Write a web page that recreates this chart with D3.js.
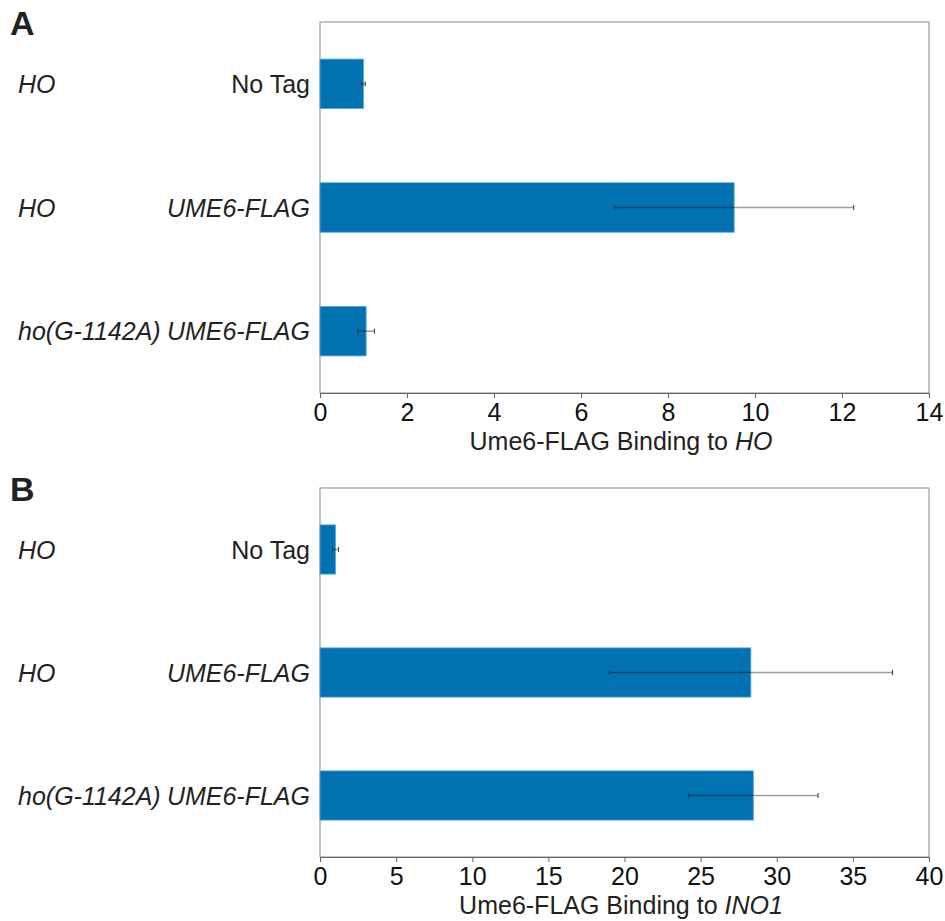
<!DOCTYPE html>
<html>
<head>
<meta charset="utf-8">
<script src="https://cdn.jsdelivr.net/npm/d3@7"></script>
<style>
  body { margin: 0; background: #fff; }
  text { font-family: "Liberation Sans", Arial, sans-serif; fill: #222; }
  .tick text { font-size: 25px; }
</style>
</head>
<body>
<script>
// rows, top to bottom
var genotypes = ["HO", "HO", "ho(G-1142A)"];
var strains = ["No Tag", "UME6-FLAG", "UME6-FLAG"];
var strainItalic = [false, true, true];

// panel A: binding to HO
var hoMeans = [1.0, 9.52, 1.06];
var hoErrors = [0.04, 2.75, 0.19];
var hoTicks = [0, 2, 4, 6, 8, 10, 12, 14];

// panel B: binding to INO1
var inoMeans = [1.02, 28.3, 28.46];
var inoErrors = [0.2, 9.3, 4.25];
var inoTicks = [0, 5, 10, 15, 20, 25, 30, 35, 40];

var width = 945, height = 921;
var left = 320, right = 929;

var svg = d3.select("body").append("svg")
    .attr("width", width)
    .attr("height", height);

function panel(letter, top, bottom, means, errors, ticks, target) {
    var rows = d3.range(means.length);

    var x = d3.scaleLinear()
        .domain([0, ticks[ticks.length - 1]])
        .range([left, right]);

    var y = d3.scaleBand()
        .domain(rows)
        .range([top, bottom])
        .paddingInner(0.6)
        .paddingOuter(0.3);

    var g = svg.append("g");

    g.append("text")
        .text(letter)
        .attr("x", 10)
        .attr("y", top + 13)
        .style("font-size", "34px")
        .style("font-weight", "bold");

    // frame
    g.append("rect")
        .attr("x", left)
        .attr("y", top)
        .attr("width", right - left)
        .attr("height", bottom - top)
        .attr("fill", "none")
        .attr("stroke", "#8a8a8a")
        .attr("stroke-width", 1);

    g.selectAll(".bar")
        .data(rows)
        .enter()
        .append("rect")
            .attr("class", "bar")
            .attr("x", x(0))
            .attr("y", function(i) { return y(i); })
            .attr("width", function(i) { return x(means[i]) - x(0); })
            .attr("height", y.bandwidth())
            .attr("fill", "#0072b2")
            .attr("stroke", "#5aa6d6")
            .attr("stroke-width", 0.8);

    // error bars
    var err = g.selectAll(".err")
        .data(rows)
        .enter()
        .append("g")
            .attr("class", "err");

    err.append("line")
        .attr("x1", function(i) { return x(means[i] - errors[i]); })
        .attr("x2", function(i) { return x(means[i] + errors[i]); })
        .attr("y1", function(i) { return y(i) + y.bandwidth() / 2; })
        .attr("y2", function(i) { return y(i) + y.bandwidth() / 2; })
        .attr("stroke", "#000")
        .attr("stroke-opacity", 0.38)
        .attr("stroke-width", 1.6);

    [-1, 1].forEach(function(s) {
        err.append("line")
            .attr("x1", function(i) { return x(means[i] + s * errors[i]); })
            .attr("x2", function(i) { return x(means[i] + s * errors[i]); })
            .attr("y1", function(i) { return y(i) + y.bandwidth() / 2 - 2.5; })
            .attr("y2", function(i) { return y(i) + y.bandwidth() / 2 + 2.5; })
            .attr("stroke", "#333")
            .attr("stroke-width", 1);
    });

    // row labels
    g.selectAll(".geno")
        .data(rows)
        .enter()
        .append("text")
            .text(function(i) { return genotypes[i]; })
            .attr("x", 18)
            .attr("y", function(i) { return y(i) + y.bandwidth() / 2 + 9; })
            .style("font-size", "25px")
            .style("font-style", "italic");

    g.selectAll(".strain")
        .data(rows)
        .enter()
        .append("text")
            .text(function(i) { return strains[i]; })
            .attr("text-anchor", "end")
            .attr("x", 310)
            .attr("y", function(i) { return y(i) + y.bandwidth() / 2 + 9; })
            .style("font-size", "25px")
            .style("font-style", function(i) { return strainItalic[i] ? "italic" : "normal"; });

    var xAxis = d3.axisBottom(x)
        .tickValues(ticks)
        .tickSize(5)
        .tickPadding(5)
        .tickFormat(d3.format("d"));

    var ax = g.append("g")
        .attr("transform", "translate(0," + bottom + ")")
        .call(xAxis);
    ax.select(".domain").attr("stroke", "#666");
    ax.selectAll(".tick line").attr("stroke", "#666");
    ax.selectAll(".tick text").style("fill", "#111");

    var title = g.append("text")
        .attr("text-anchor", "middle")
        .attr("x", 621)
        .attr("y", bottom + 57)
        .style("font-size", "25px");
    title.append("tspan").text("Ume6-FLAG Binding to ");
    title.append("tspan").text(target).style("font-style", "italic");
}

panel("A", 22, 393, hoMeans, hoErrors, hoTicks, "HO");
panel("B", 488, 857, inoMeans, inoErrors, inoTicks, "INO1");
</script>
</body>
</html>
